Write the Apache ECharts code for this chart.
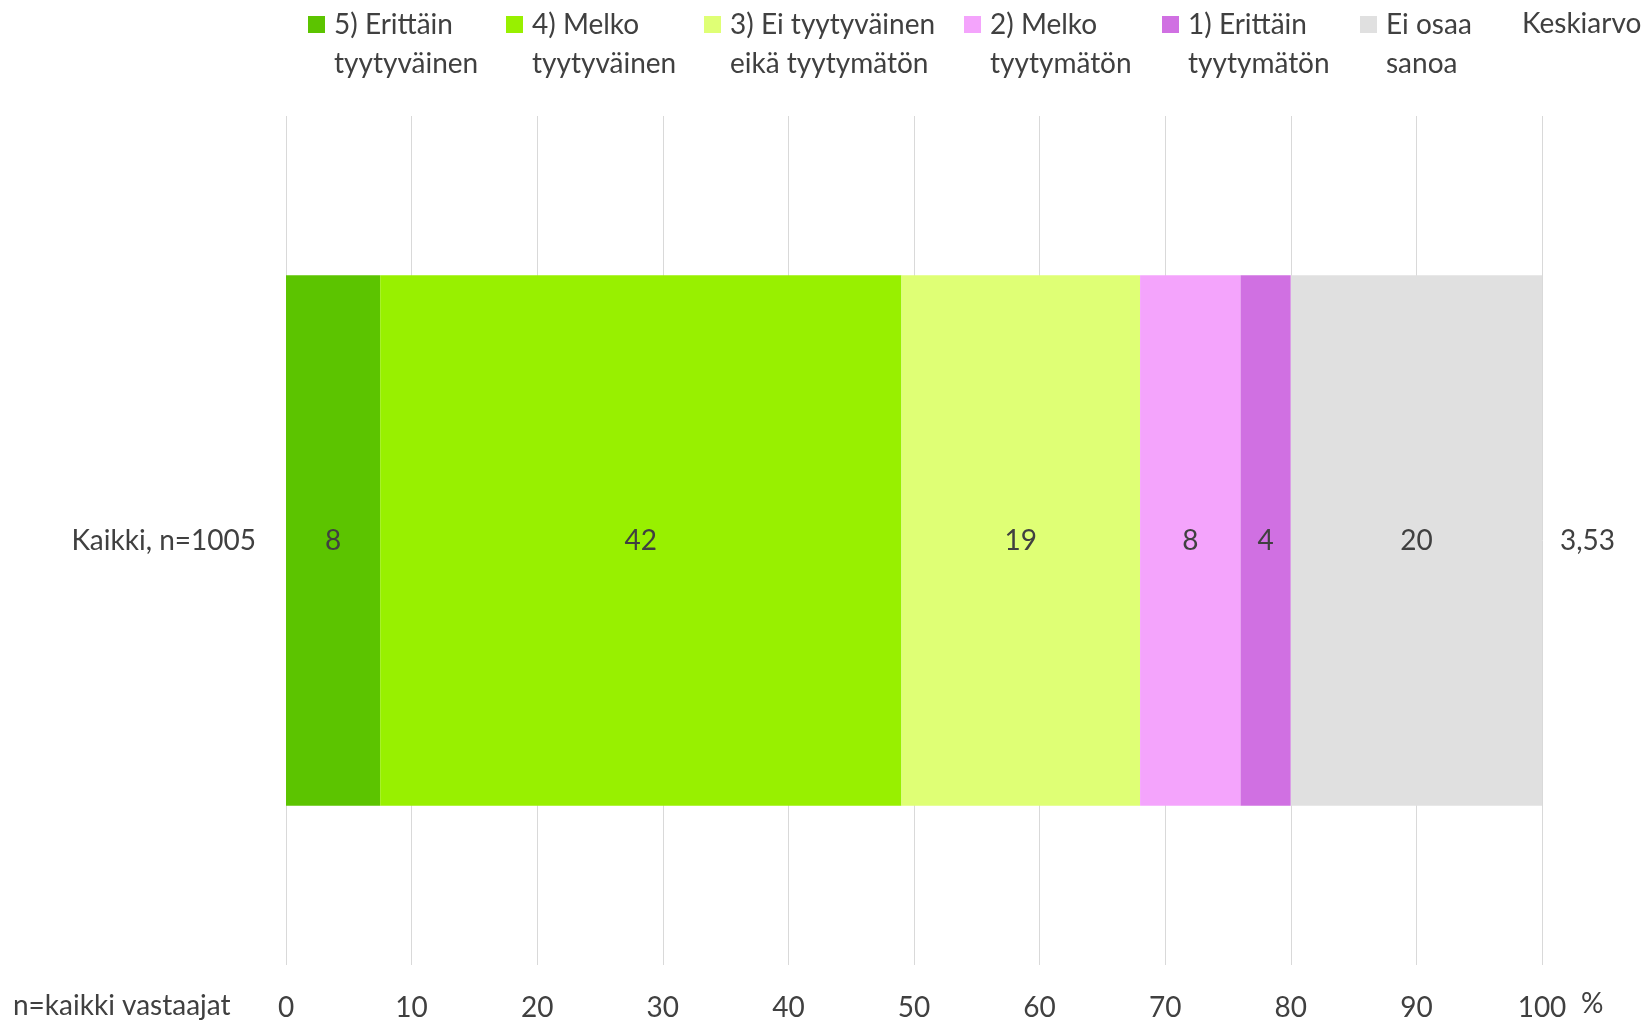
<!DOCTYPE html>
<html>
<head>
<meta charset="utf-8">
<script src="https://cdn.jsdelivr.net/npm/echarts@6/dist/echarts.min.js"></script>
<style>
  html, body { margin: 0; padding: 0; background: #ffffff; }
  #chart { width: 1649px; height: 1023px; }
</style>
</head>
<body>
<div id="chart"></div>
<script>
// ---- data ----
const categories = ['Kaikki, n=1005'];
const seriesNames = [
  '5) Erittäin\ntyytyväinen',
  '4) Melko\ntyytyväinen',
  '3) Ei tyytyväinen\neikä tyytymätön',
  '2) Melko\ntyytymätön',
  '1) Erittäin\ntyytymätön',
  'Ei osaa\nsanoa'
];
const erittainTyytyvainen = [7.5];
const melkoTyytyvainen = [41.5];
const eiTyytyvainenEikaTyytymaton = [19];
const melkoTyytymaton = [8];
const erittainTyytymaton = [4];
const eiOsaaSanoa = [20];
const keskiarvo = [3.53];
const xTicks = [0, 10, 20, 30, 40, 50, 60, 70, 80, 90, 100];

// ---- styles ----
const colors = ['#5CC400', '#98F000', '#DFFF75', '#F4A4FC', '#D070E2', '#E0E0E0'];
const FONT = 'Lato, Carlito, "Liberation Sans", sans-serif';
const TEXT = '#404040';
const FS = 28;

const values = [erittainTyytyvainen, melkoTyytyvainen, eiTyytyvainenEikaTyytymaton,
                melkoTyytymaton, erittainTyytymaton, eiOsaaSanoa];
const legendLefts = [308, 506, 704, 964, 1162, 1360];
// square icon in the upper part of a tall icon box, so it lines up with the first text line
const ICON = 'path://M0,0L17,0L17,17L0,17Z M0,56L17,56L17,56Z';

const series = seriesNames.map((name, i) => ({
  name: name,
  type: 'bar',
  stack: 'total',
  barCategoryGap: '37.5%',
  itemStyle: { color: colors[i] },
  label: {
    show: true,
    position: 'inside',
    color: TEXT,
    fontFamily: FONT,
    fontSize: FS,
    formatter: p => String(Math.round(p.value))
  },
  emphasis: { disabled: true },
  data: values[i]
}));
series.push({
  name: 'Keskiarvo',
  type: 'scatter',
  data: []
});

const legends = seriesNames.map((name, i) => ({
  data: [name],
  left: legendLefts[i],
  top: 5,
  padding: 0,
  itemWidth: 17,
  itemHeight: 56,
  icon: ICON,
  selectedMode: false,
  textStyle: {
    color: TEXT, fontFamily: FONT, fontSize: FS, lineHeight: 39,
    padding: [0, 0, 0, 4]
  }
}));
legends.push({
  data: [{ name: 'Keskiarvo', icon: 'none' }],
  left: 1496,
  top: 4,
  padding: 0,
  itemWidth: 17,
  itemHeight: 17,
  selectedMode: false,
  textStyle: {
    color: TEXT, fontFamily: FONT, fontSize: FS, lineHeight: 39,
    padding: [0, 0, 0, 4]
  }
});

const chart = echarts.init(document.getElementById('chart'), null, { renderer: 'canvas' });
chart.setOption({
  animation: false,
  backgroundColor: '#ffffff',
  textStyle: { fontFamily: FONT },
  legend: legends,
  grid: { left: 286, right: 107, top: 116, bottom: 58, containLabel: false },
  xAxis: {
    type: 'value',
    min: xTicks[0],
    max: xTicks[xTicks.length - 1],
    interval: xTicks[1] - xTicks[0],
    axisLine: { show: false },
    axisTick: { show: false },
    splitLine: { show: true, lineStyle: { color: '#D9D9D9', width: 1 } },
    axisLabel: { color: TEXT, fontFamily: FONT, fontSize: FS, margin: 29 },
    name: '%',
    nameLocation: 'end',
    nameGap: 39,
    nameTextStyle: { color: TEXT, fontFamily: FONT, fontSize: FS, verticalAlign: 'top', padding: [25, 0, 0, 0] }
  },
  yAxis: [
    {
      type: 'category',
      data: categories,
      axisLine: { show: false },
      axisTick: { show: false },
      axisLabel: { color: TEXT, fontFamily: FONT, fontSize: FS, margin: 30 }
    },
    {
      type: 'category',
      position: 'right',
      data: keskiarvo.map(v => v.toFixed(2).replace('.', ',')),
      axisLine: { show: false },
      axisTick: { show: false },
      axisLabel: { color: TEXT, fontFamily: FONT, fontSize: FS, margin: 18 }
    }
  ],
  graphic: [{
    type: 'text',
    left: 13,
    top: 992,
    style: { text: 'n=kaikki vastaajat', fill: TEXT, font: FS + 'px ' + FONT }
  }],
  series: series
});
</script>
</body>
</html>
